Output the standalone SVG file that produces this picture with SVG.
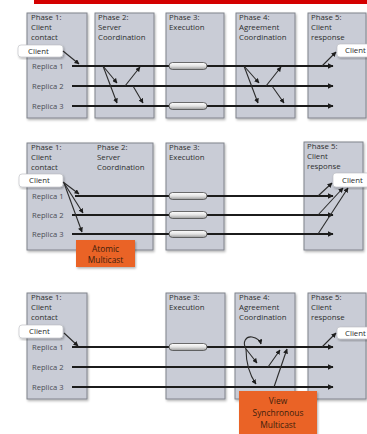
<svg xmlns="http://www.w3.org/2000/svg" width="367" height="434" viewBox="0 0 367 434">
  <defs>
    <style>
      .phase { fill: #c9ccd6; stroke: #80838c; stroke-width: 1; filter: url(#shadow); }
      .lbl { font-family: "Open Sans", "Liberation Sans", sans-serif; font-size: 7.8px; fill: #2e2e2e; }
      .rep { font-family: "Open Sans", "Liberation Sans", sans-serif; font-size: 7.6px; fill: #4a4d55; }
      .client { fill: #ffffff; stroke: #b8bac0; stroke-width: 0.6; filter: url(#shadow); }
      .ctext { font-family: "Open Sans", "Liberation Sans", sans-serif; font-size: 7.8px; fill: #2a2a2a; }
      .orange { fill: #ea6427; filter: url(#shadow); }
      .otext { font-family: "Open Sans", "Liberation Sans", sans-serif; font-size: 8.4px; fill: #3e1e0c; text-anchor: middle; }
      .rline { stroke: #1c1c1c; stroke-width: 2; fill: none; marker-end: url(#ahBig); }
      .msg { stroke: #2a2a2a; stroke-width: 1.1; fill: none; marker-end: url(#ah); }
      .exec { fill: url(#cyl); stroke: #4a4a4a; stroke-width: 0.8; }
    </style>
    <filter id="shadow" x="-10%" y="-10%" width="130%" height="130%">
      <feDropShadow dx="1" dy="1.5" stdDeviation="1.2" flood-color="#000" flood-opacity="0.3"/>
    </filter>
    <linearGradient id="cyl" x1="0" y1="0" x2="0" y2="1">
      <stop offset="0" stop-color="#ffffff"/>
      <stop offset="0.5" stop-color="#e4e4e4"/>
      <stop offset="1" stop-color="#9a9a9a"/>
    </linearGradient>
    <marker id="ah" viewBox="0 0 10 10" refX="9" refY="5" markerWidth="5" markerHeight="5" markerUnits="userSpaceOnUse" orient="auto">
      <path d="M0,0 L10,5 L0,10 z" fill="#1c1c1c"/>
    </marker>
    <marker id="ahBig" viewBox="0 0 10 10" refX="9" refY="5" markerWidth="6" markerHeight="6" markerUnits="userSpaceOnUse" orient="auto">
      <path d="M0,0 L10,5 L0,10 z" fill="#1c1c1c"/>
    </marker>
  </defs>

  <rect x="0" y="0" width="367" height="434" fill="#ffffff"/>
  <!-- header bar -->
  <rect x="34" y="0" width="333" height="4" fill="#d40000"/>

  <!-- ===== Panel 1: five phases ===== -->
  <g id="p1-phase1">
    <rect class="phase" x="27" y="13" width="60" height="105"/>
    <text class="lbl" x="31" y="20">Phase 1:</text>
    <text class="lbl" x="31" y="30">Client</text>
    <text class="lbl" x="31" y="40">contact</text>
  </g>
  <g id="p1-phase2">
    <rect class="phase" x="95" y="13" width="59" height="105"/>
    <text class="lbl" x="98" y="20">Phase 2:</text>
    <text class="lbl" x="98" y="30">Server</text>
    <text class="lbl" x="98" y="40">Coordination</text>
  </g>
  <g id="p1-phase3">
    <rect class="phase" x="166" y="13" width="58" height="105"/>
    <text class="lbl" x="169" y="20">Phase 3:</text>
    <text class="lbl" x="169" y="30">Execution</text>
  </g>
  <g id="p1-phase4">
    <rect class="phase" x="236" y="13" width="59" height="105"/>
    <text class="lbl" x="239" y="20">Phase 4:</text>
    <text class="lbl" x="239" y="30">Agreement</text>
    <text class="lbl" x="239" y="40">Coordination</text>
  </g>
  <g id="p1-phase5">
    <rect class="phase" x="308" y="13" width="58" height="105"/>
    <text class="lbl" x="311" y="20">Phase 5:</text>
    <text class="lbl" x="311" y="30">Client</text>
    <text class="lbl" x="311" y="40">response</text>
  </g>
  <g id="p1-replicas">
    <text class="rep" x="32" y="69">Replica 1</text>
    <text class="rep" x="32" y="89">Replica 2</text>
    <text class="rep" x="32" y="109">Replica 3</text>
  </g>
  <g id="p1-client-in">
    <rect class="client" x="18" y="45" width="45" height="12" rx="3"/>
    <text class="ctext" x="28" y="53.5">Client</text>
  </g>
  <g id="p1-client-out">
    <rect class="client" x="337" y="44" width="36" height="13" rx="3"/>
    <text class="ctext" x="345" y="53">Client</text>
  </g>

  <!-- ===== Panel 2: atomic multicast ===== -->
  <g id="p2-phase12">
    <rect class="phase" x="27" y="143" width="126" height="107"/>
    <text class="lbl" x="31" y="150">Phase 1:</text>
    <text class="lbl" x="31" y="160">Client</text>
    <text class="lbl" x="31" y="170">contact</text>
    <text class="lbl" x="97" y="150">Phase 2:</text>
    <text class="lbl" x="97" y="160">Server</text>
    <text class="lbl" x="97" y="170">Coordination</text>
  </g>
  <g id="p2-phase3">
    <rect class="phase" x="166" y="143" width="58" height="107"/>
    <text class="lbl" x="169" y="150">Phase 3:</text>
    <text class="lbl" x="169" y="160">Execution</text>
  </g>
  <g id="p2-phase5">
    <rect class="phase" x="304" y="142" width="59" height="108"/>
    <text class="lbl" x="307" y="149">Phase 5:</text>
    <text class="lbl" x="307" y="159">Client</text>
    <text class="lbl" x="307" y="169">response</text>
  </g>
  <g id="p2-replicas">
    <text class="rep" x="32" y="199">Replica 1</text>
    <text class="rep" x="32" y="218">Replica 2</text>
    <text class="rep" x="32" y="237">Replica 3</text>
  </g>
  <g id="p2-client-in">
    <rect class="client" x="19" y="174" width="44" height="13" rx="3"/>
    <text class="ctext" x="29" y="183">Client</text>
  </g>
  <g id="p2-client-out">
    <rect class="client" x="333" y="173" width="38" height="14" rx="3"/>
    <text class="ctext" x="342" y="182.5">Client</text>
  </g>

  <!-- ===== Panel 3: view synchronous multicast ===== -->
  <g id="p3-phase1">
    <rect class="phase" x="27" y="293" width="60" height="106"/>
    <text class="lbl" x="31" y="300">Phase 1:</text>
    <text class="lbl" x="31" y="310">Client</text>
    <text class="lbl" x="31" y="320">contact</text>
  </g>
  <g id="p3-phase3">
    <rect class="phase" x="166" y="293" width="59" height="106"/>
    <text class="lbl" x="169" y="300">Phase 3:</text>
    <text class="lbl" x="169" y="310">Execution</text>
  </g>
  <g id="p3-phase4">
    <rect class="phase" x="235" y="293" width="60" height="106"/>
    <text class="lbl" x="239" y="300">Phase 4:</text>
    <text class="lbl" x="239" y="310">Agreement</text>
    <text class="lbl" x="239" y="320">Coordination</text>
  </g>
  <g id="p3-phase5">
    <rect class="phase" x="308" y="293" width="58" height="106"/>
    <text class="lbl" x="311" y="300">Phase 5:</text>
    <text class="lbl" x="311" y="310">Client</text>
    <text class="lbl" x="311" y="320">response</text>
  </g>
  <g id="p3-replicas">
    <text class="rep" x="32" y="350">Replica 1</text>
    <text class="rep" x="32" y="370">Replica 2</text>
    <text class="rep" x="32" y="390">Replica 3</text>
  </g>
  <g id="p3-client-in">
    <rect class="client" x="19" y="325" width="44" height="13" rx="3"/>
    <text class="ctext" x="29" y="334">Client</text>
  </g>
  <g id="p3-client-out">
    <rect class="client" x="337" y="327" width="36" height="12" rx="3"/>
    <text class="ctext" x="345" y="335.5">Client</text>
  </g>

  <!-- ===== connectors ===== -->
  <g id="connectors">
    <!-- panel 1 replica timelines -->
    <path class="rline" d="M72,66 L333,66"/>
    <path class="rline" d="M72,86 L333,86"/>
    <path class="rline" d="M72,106 L333,106"/>
    <!-- panel 1 messages -->
    <path class="msg" d="M63,51 L79,64"/>
    <path class="msg" d="M103,66 L117,83"/>
    <path class="msg" d="M103,66 L117,103"/>
    <path class="msg" d="M125,86 L140,67"/>
    <path class="msg" d="M133,86 L143,103"/>
    <path class="msg" d="M244,66 L259,83"/>
    <path class="msg" d="M244,66 L258,103"/>
    <path class="msg" d="M266,86 L281,67"/>
    <path class="msg" d="M272,86 L284,103"/>
    <path class="msg" d="M322,66 L336,52"/>

    <!-- panel 2 replica timelines -->
    <path class="rline" d="M75,196 L333,196"/>
    <path class="rline" d="M72,215 L333,215"/>
    <path class="rline" d="M72,234 L333,234"/>
    <!-- panel 2 messages -->
    <path class="msg" d="M63,182 L79,194"/>
    <path class="msg" d="M64,183 L83,213"/>
    <path class="msg" d="M64,183 L82,232"/>
    <path class="msg" d="M318,196 L332,183"/>
    <path class="msg" d="M318,215 L343,188"/>
    <path class="msg" d="M318,234 L348,188"/>

    <!-- panel 3 replica timelines -->
    <path class="rline" d="M72,347 L333,347"/>
    <path class="rline" d="M72,367 L333,367"/>
    <path class="rline" d="M72,387 L333,387"/>
    <!-- panel 3 messages -->
    <path class="msg" d="M64,333 L78,346"/>
    <path class="msg" d="M246,349 C242,342 246,336 252,337 C257,338 260,340 261,344"/>
    <path class="msg" d="M246,349 L257,363"/>
    <path class="msg" d="M246,349 C246,362 249,374 256,384"/>
    <path class="msg" d="M268,367 L280,350"/>
    <path class="msg" d="M274,387 L287,349"/>
    <path class="msg" d="M322,347 L336,333"/>
  </g>

  <!-- execution steps -->
  <g id="p1-exec">
    <rect class="exec" x="169" y="62.5" width="38" height="7" rx="3.5"/>
    <rect class="exec" x="169" y="102.5" width="38" height="7" rx="3.5"/>
  </g>
  <g id="p2-exec">
    <rect class="exec" x="169" y="192.5" width="38" height="7" rx="3.5"/>
    <rect class="exec" x="169" y="211.5" width="38" height="7" rx="3.5"/>
    <rect class="exec" x="169" y="230.5" width="38" height="7" rx="3.5"/>
  </g>
  <g id="p3-exec">
    <rect class="exec" x="169" y="343.5" width="38" height="7" rx="3.5"/>
  </g>

  <!-- multicast tags -->
  <g id="atomic-multicast">
    <rect class="orange" x="76" y="240" width="59" height="27"/>
    <text class="otext" x="105.5" y="251.5">Atomic</text>
    <text class="otext" x="105.5" y="262.5">Multicast</text>
  </g>
  <g id="view-sync-multicast">
    <rect class="orange" x="239" y="391" width="78" height="43"/>
    <text class="otext" x="278" y="404">View</text>
    <text class="otext" x="278" y="416">Synchronous</text>
    <text class="otext" x="278" y="428">Multicast</text>
  </g>
</svg>
